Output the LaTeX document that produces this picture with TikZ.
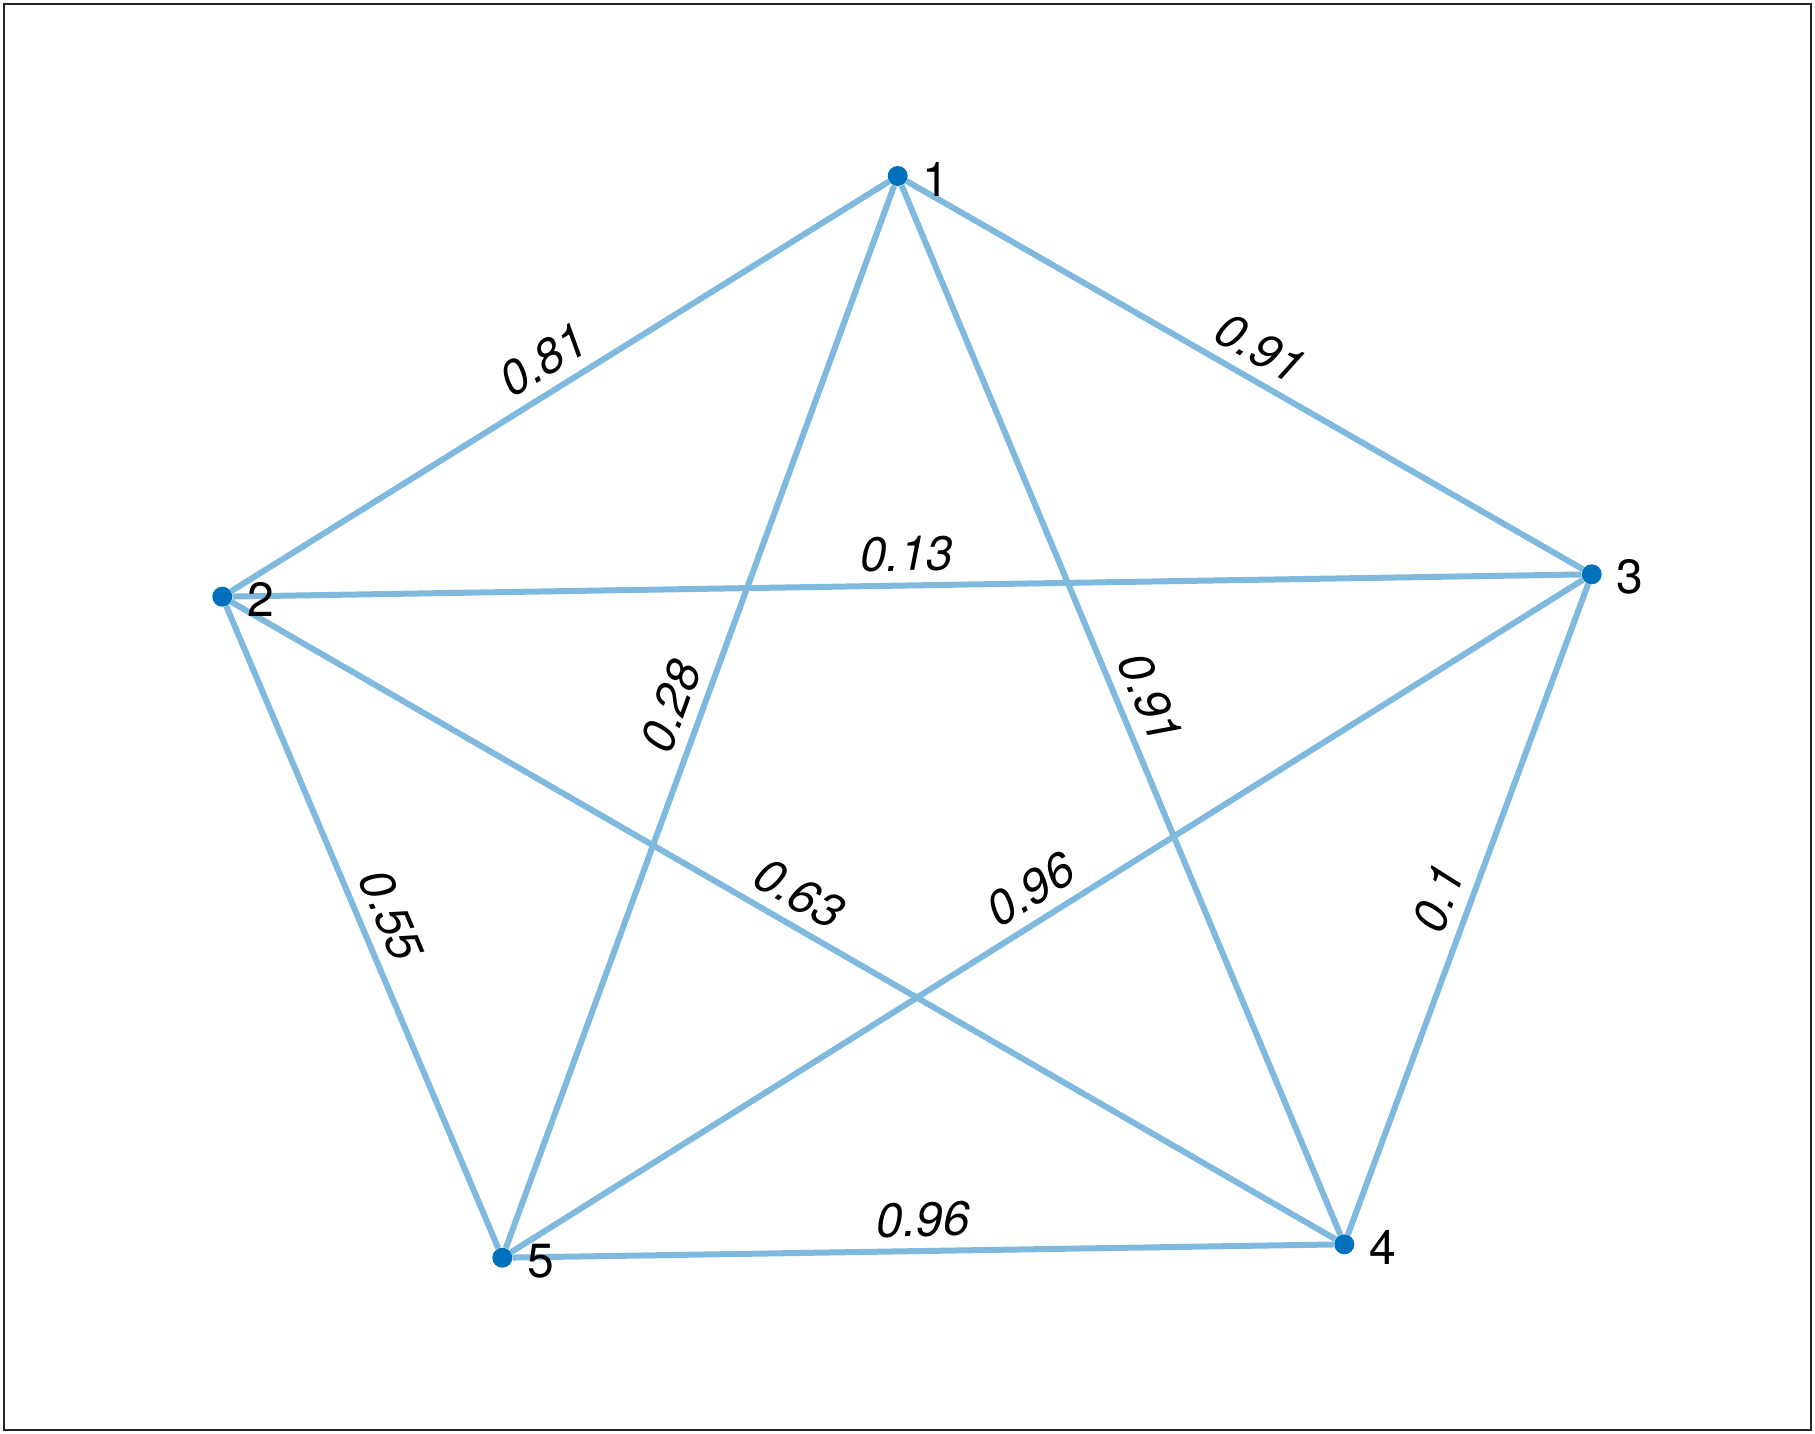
\documentclass[tikz,border=0pt]{standalone}
\usepackage{fontspec}
\setmainfont{TeX Gyre Heros}
\definecolor{nodeblue}{HTML}{0072BD}
\definecolor{edgeblue}{HTML}{80B9DE}
\definecolor{framegray}{HTML}{262626}
\tikzset{
  vert/.style={circle,fill=nodeblue,minimum size=20pt,inner sep=0pt},
  vlabel/.style={anchor=west,inner sep=0pt,font=\fontsize{48}{48}\selectfont},
  edge/.style={draw=edgeblue,line width=6pt},
  wlabel/.style={midway,sloped,above=11pt,inner sep=0pt,font=\fontsize{48}{48}\selectfont\itshape}
}
\begin{document}
\begin{tikzpicture}[x=1pt,y=-1pt]
\useasboundingbox (0,0) rectangle (1815,1434);
\fill[white] (0,0) rectangle (1815,1434);
\draw[framegray,line width=2.5pt] (4,4) rectangle (1811,1430);
\node[vert] (n1) at (897.7,176) {};
\node[vert] (n2) at (222.3,596.7) {};
\node[vert] (n3) at (1591.7,574.3) {};
\node[vert] (n4) at (1344.3,1244.3) {};
\node[vert] (n5) at (502.3,1257.7) {};
\draw[edge] (n1) -- node[wlabel] {0.81} (n2);
\draw[edge] (n1) -- node[wlabel] {0.91} (n3);
\draw[edge] (n1) -- node[wlabel] {0.91} (n4);
\draw[edge] (n1) -- node[wlabel] {0.28} (n5);
\draw[edge] (n2) -- node[wlabel] {0.13} (n3);
\draw[edge] (n2) -- node[wlabel] {0.63} (n4);
\draw[edge] (n2) -- node[wlabel] {0.55} (n5);
\draw[edge] (n3) -- node[wlabel] {0.1} (n4);
\draw[edge] (n3) -- node[wlabel] {0.96} (n5);
\draw[edge] (n5) -- node[wlabel] {0.96} (n4);
\node[vlabel] (l1) at ([xshift=25pt,yshift=-3pt]n1.center) {1};
\node[vlabel] (l2) at ([xshift=25pt,yshift=-3pt]n2.center) {2};
\node[vlabel] (l3) at ([xshift=25pt,yshift=-3pt]n3.center) {3};
\node[vlabel] (l4) at ([xshift=25pt,yshift=-3pt]n4.center) {4};
\node[vlabel] (l5) at ([xshift=25pt,yshift=-3pt]n5.center) {5};
\end{tikzpicture}
\end{document}
